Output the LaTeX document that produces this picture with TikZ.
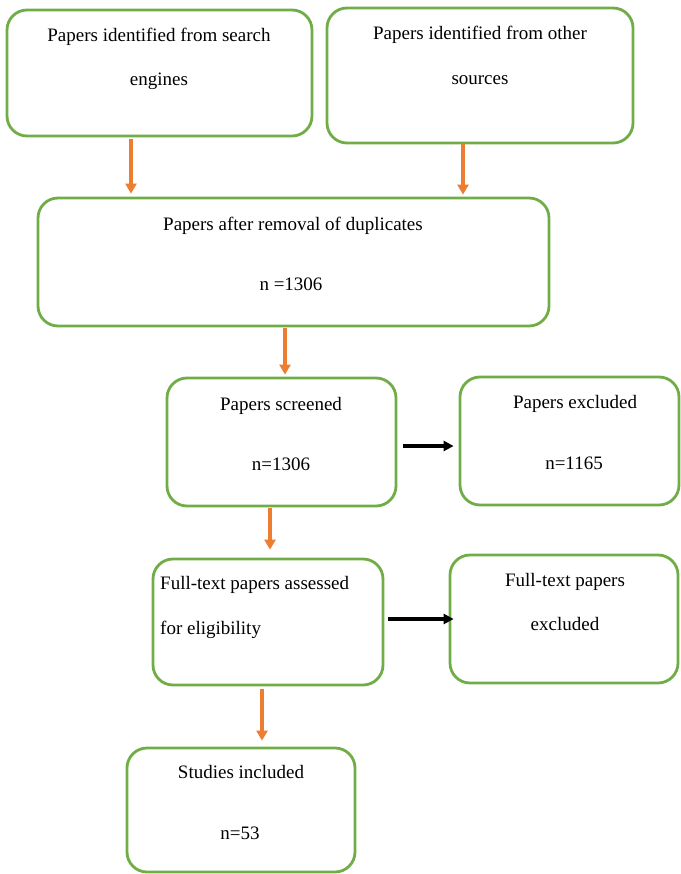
\documentclass[tikz,border=0pt]{standalone}
\usepackage{fontspec}
\setmainfont{Liberation Serif}
\usetikzlibrary{arrows.meta}
\definecolor{boxgreen}{RGB}{112,173,71}
\definecolor{arrorange}{RGB}{237,125,49}
\tikzset{
  box/.style={draw=boxgreen, line width=2.8pt, rounded corners=20pt, minimum width=#1, inner sep=0pt},
  txt/.style={font=\fontsize{19}{22}\selectfont, text height=12.5pt, text depth=4pt, inner sep=0pt},
  oarr/.style={draw=arrorange, line width=3.2pt, -{Triangle[length=10pt,width=11pt]}},
  karr/.style={draw=black, line width=3.2pt, -{Triangle[length=10pt,width=10pt]}}
}
\begin{document}
\begin{tikzpicture}[x=1pt,y=-1pt]
\useasboundingbox (0,0) rectangle (680,874);
% boxes
\node[box=305pt, minimum height=126pt] (b1) at (159.5,73) {};
\node[box=306pt, minimum height=135pt] (b2) at (480,75.5) {};
\node[box=511pt, minimum height=128pt] (b3) at (293.5,262) {};
\node[box=229pt, minimum height=128pt] (b4) at (281.5,442) {};
\node[box=219pt, minimum height=128pt] (b5) at (569.5,441) {};
\node[box=230pt, minimum height=126pt] (b6) at (268,622) {};
\node[box=228pt, minimum height=128pt] (b7) at (564,619) {};
\node[box=228pt, minimum height=124pt] (b8) at (241,810) {};
% texts
\node[txt] (t1a) at (159,37) {Papers identified from search};
\node[txt] (t1b) at (159,81) {engines};
\node[txt] (t2a) at (480,35) {Papers identified from other};
\node[txt] (t2b) at (480,80) {sources};
\node[txt] (t3a) at (293,226) {Papers after removal of duplicates};
\node[txt] (t3b) at (291,286) {n =1306};
\node[txt] (t4a) at (281,406) {Papers screened};
\node[txt] (t4b) at (281,466) {n=1306};
\node[txt] (t5a) at (575,404) {Papers excluded};
\node[txt] (t5b) at (574,465) {n=1165};
\node[txt, anchor=west] (t6a) at (160,585) {Full-text papers assessed};
\node[txt, anchor=west] (t6b) at (160,630) {for eligibility};
\node[txt] (t7a) at (565,582) {Full-text papers};
\node[txt] (t7b) at (565,626) {excluded};
\node[txt] (t8a) at (241,774) {Studies included};
\node[txt] (t8b) at (240,835) {n=53};
% arrow x positions
\coordinate (x1) at (131,0);
\coordinate (x2) at (463,0);
\coordinate (x3) at (285,0);
\coordinate (x4) at (270,0);
\coordinate (x5) at (262,0);
\coordinate (y4) at (0,446);
\coordinate (y6) at (0,619);
% connectors
\draw[oarr, shorten <=2pt, shorten >=3pt] (b1.south -| x1) -- (b3.north -| x1);
\draw[oarr, shorten <=0pt, shorten >=2pt] (b2.south -| x2) -- (b3.north -| x2);
\draw[oarr, shorten <=1pt, shorten >=2pt] (b3.south -| x3) -- (b4.north -| x3);
\draw[oarr, shorten <=1pt, shorten >=8pt] (b4.south -| x4) -- (b6.north -| x4);
\draw[oarr, shorten <=3pt, shorten >=6pt] (b6.south -| x5) -- (b8.north -| x5);
\draw[karr, shorten <=6pt, shorten >=5pt] (b4.east |- y4) -- (b5.west |- y4);
\draw[karr, shorten <=4pt, shorten >=-5pt] (b6.east |- y6) -- (b7.west |- y6);
\end{tikzpicture}
\end{document}
